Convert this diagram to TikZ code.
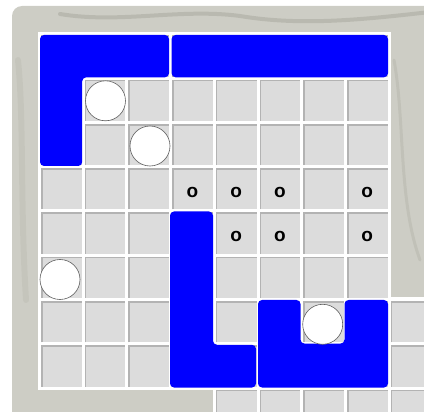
\documentclass[tikz,border=0pt]{standalone}
\usepackage{fontspec}
\newfontfamily\markfont{Liberation Sans}
\usetikzlibrary{calc}

\definecolor{mapgray}{HTML}{CDCDC5}
\definecolor{mapdark}{HTML}{8E8E80}
\definecolor{cellgray}{HTML}{DCDCDC}
\definecolor{cellshade}{HTML}{B3B3B3}

\tikzset{
  cell/.style={fill=cellgray},
  celledge/.style={draw=cellshade, line width=1.6pt},
  piece/.style={fill=blue, rounded corners=4pt},
  stone/.style={draw=gray!75!black, fill=white, line width=0.6pt},
  omark/.style={font=\markfont\bfseries\fontsize{19}{19}\selectfont, inner sep=0pt}
}

\begin{document}
\begin{tikzpicture}[x=1pt, y=-1pt]
    \useasboundingbox (0,0) rectangle (424,412);
    \clip (0,0) rectangle (424,412);

    % map background
    \fill[mapgray, rounded corners=10pt] (12,6) rectangle (440,430);
    \draw[mapdark, opacity=0.3, line width=4pt, line cap=round]
        (60,14) .. controls (120,24) and (180,8) .. (240,16) .. controls (300,26) and (360,20) .. (430,12);
    \draw[mapdark, opacity=0.18, line width=3pt, line cap=round]
        (394,60) .. controls (405,120) and (398,200) .. (420,260);
    \draw[mapdark, opacity=0.12, line width=6pt, line cap=round]
        (18,60) .. controls (24,120) and (20,200) .. (26,300);

    % board
    \fill[white] (38,32.5) rectangle (390.6,389.5);
    \fill[white] (387.6,297.5) rectangle (430,420);
    \fill[white] (212.8,386.5) rectangle (430,420);
    \foreach \c in {0,...,7}
      \foreach \r in {0,...,7} {
        \pgfmathsetmacro\cx{39.5+43.7*\c}
        \pgfmathsetmacro\cy{34+44.25*\r}
        \fill[cell] (\cx+1.5,\cy+1.5) rectangle (\cx+42.2,\cy+42.75);
        \draw[celledge] (\cx+2.3,\cy+42.75) |- (\cx+42.2,\cy+2.3);
      }
    % partial cells of the next board
    \foreach \c/\r in {8/6,8/7,8/8,4/8,5/8,6/8,7/8} {
        \pgfmathsetmacro\cx{39.5+43.7*\c}
        \pgfmathsetmacro\cy{34+44.25*\r}
        \fill[cell] (\cx+1.5,\cy+1.5) rectangle (\cx+42.2,\cy+42.75);
        \draw[celledge] (\cx+2.3,\cy+42.75) |- (\cx+42.2,\cy+2.3);
    }

    % pieces
    \fill[piece] (40,35) -- (169,35) -- (169,77.3) -- (82.2,77.3) -- (82.2,166) -- (40,166) -- cycle;
    \fill[piece] (171.6,35) -- (388,35) -- (388,77.3) -- (171.6,77.3) -- cycle;
    \fill[piece] (170,211.5) -- (213,211.5) -- (213,344.8) -- (256,344.8) -- (256,387.5) -- (170,387.5) -- cycle;
    \fill[piece] (258,300) -- (300.5,300) -- (300.5,343.6) -- (344.5,343.6) -- (344.5,300) -- (388,300)
        -- (388,387.5) -- (258,387.5) -- cycle;

    % stones
    \draw[stone] (105.5,100.8) circle (20pt);
    \draw[stone] (150,146) circle (20pt);
    \draw[stone] (60,279.5) circle (20pt);
    \draw[stone] (322.7,324.3) circle (20pt);

    % marks
    \node[omark] (o33) at (192.4,192) {o};
    \node[omark] (o34) at (236.2,192) {o};
    \node[omark] (o35) at (279.9,192) {o};
    \node[omark] (o37) at (367.3,192) {o};
    \node[omark] (o44) at (236.2,236) {o};
    \node[omark] (o45) at (279.9,236) {o};
    \node[omark] (o47) at (367.3,236) {o};
\end{tikzpicture}
\end{document}
